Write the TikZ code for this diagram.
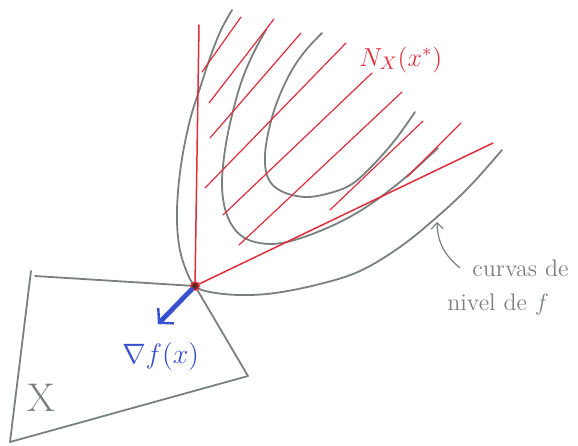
\documentclass[tikz,border=0pt]{standalone}
\usepackage{fix-cm}
\usepackage{fontspec}
\usetikzlibrary{positioning, arrows.meta}

\definecolor{pencil}{RGB}{122,128,126}
\definecolor{conered}{RGB}{222,45,60}
\definecolor{gradblue}{RGB}{55,80,205}
\definecolor{dotbrown}{RGB}{95,40,30}

\begin{document}
\begin{tikzpicture}[
      x=0.5pt, y=-0.5pt,
      level/.style={draw=pencil, line width=0.9pt, line cap=round, line join=round},
      cone/.style={draw=conered, line width=0.75pt, line cap=round},
      hatch/.style={draw=conered, line width=0.6pt, line cap=round},
      gradarrow/.style={-{Straight Barb[length=5pt, width=11pt, line width=1.2pt]},
        draw=gradblue, line width=2.4pt, line cap=round},
      note/.style={-{Straight Barb[length=3pt, width=6pt]}, draw=pencil, line width=0.6pt},
      dot/.style={circle, draw=conered, fill=dotbrown, line width=0.8pt,
        inner sep=0pt, minimum size=4pt},
      lab/.style={inner sep=1pt, anchor=base west}
    ]
    \useasboundingbox (0,0) rectangle (578,445);

    % level curves of f
    \draw[level] plot[smooth, tension=0.6] coordinates {(232,10) (221,30) (211,55) (201,85)
      (190,120) (181,165) (177,210) (179,245) (186,270) (195,286) (210,292) (240,295)
      (275,293) (320,284) (360,271) (400,247) (437,217) (470,186) (502,150)};
    \draw[level] plot[smooth, tension=0.6] coordinates {(266,30) (254,52) (242,80) (232,115)
      (225,150) (222,185) (226,212) (237,232) (255,242) (282,243) (320,231) (360,211)
      (400,182) (438,148)};
    \draw[level] plot[smooth, tension=0.6] coordinates {(322,33) (306,50) (292,70) (279,97)
      (270,125) (265,155) (268,178) (281,191) (305,197) (330,193) (352,184) (373,165)
      (395,140) (415,112)};

    % the set X
    \coordinate (xs) at (195,286);
    \draw[level] (35,276) -- (xs) -- (248,376) -- (10,442) -- (31,271);

    % normal cone
    \foreach \ax/\ay/\bx/\by in {202/72/241/17, 209/103/274/19, 210/138/301/33,
        205/188/346/43, 223/215/372/73, 239/245/402/92, 330/210/423/121, 407/177/461/123}
      \draw[hatch] (\ax,\ay) -- (\bx,\by);
    \coordinate (conetop) at (199,25);
    \coordinate (coneright) at (493,143);
    \node[dot] (xstar) at (xs) {};
    \draw[cone] (xstar) -- (conetop);
    \draw[cone] (xstar) -- (coneright);

    % gradient
    \coordinate (gradtip) at (158,324);
    \draw[gradarrow] (xstar) -- (gradtip);

    % labels
    \node[lab, text=conered, font=\fontsize{13}{15}\selectfont] (normalcone) at (357,66) {$N_X(x^*)$};
    \node[lab, text=gradblue, font=\fontsize{14}{16}\selectfont] (grad) at (120,363) {$\nabla f(x)$};
    \node[lab, text=pencil, font=\fontsize{20}{24}\selectfont] (setX) at (25,411) {X};
    \node[lab, text=pencil, font=\fontsize{12}{14}\selectfont] (curvas) at (470,276) {curvas de};
    \node[lab, text=pencil, font=\fontsize{12}{14}\selectfont] (nivel) at (445,310) {nivel de $f$};

    \coordinate (lvl) at (437,222);
    \draw[note] ([xshift=-5pt]curvas.west) to[bend left=25] (lvl);
  \end{tikzpicture}
\end{document}
